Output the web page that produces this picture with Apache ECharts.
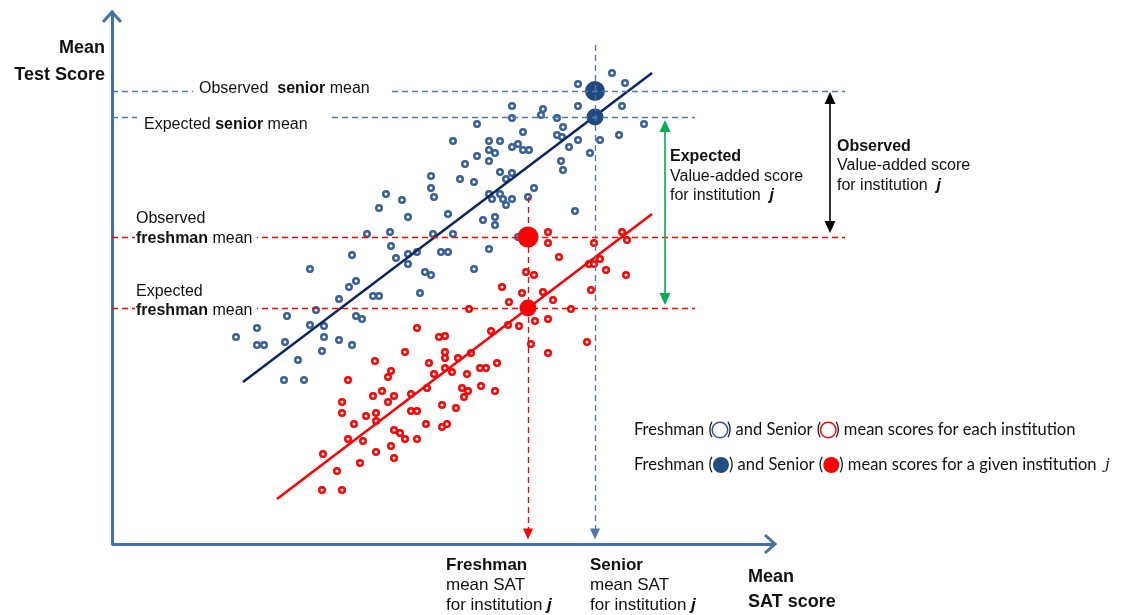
<!DOCTYPE html>
<html><head><meta charset="utf-8">
<script src="https://cdn.jsdelivr.net/npm/echarts/dist/echarts.min.js"></script>
<style>html,body{margin:0;padding:0;background:#fff}#c{width:1122px;height:615px}</style>
</head><body><div id="c"></div>
<script>
// ---- data (mean SAT score, mean test score) ----
const freshmanSAT = [1200,1166,1213,1100,1131,1166,1210,1100,1129,1145,1065,1151,1232,1111,1041,1077,1088,1145,1150,1166,1188,1207,1077,1083,1100,1106,1111,1117,1157,1178,1065,1077,1053,1149,1151,1088,1100,1094,1048,1062,1122,1077,1088,1080,1091,1100,1094,1116,1036,1163,1071,1083,1083,1041,1106,1029,1036,1077,1062,1019,1019,1022,974,990,967,996,955,978,1021,979,940,984,996,1005,996,898,1013,1019,944,937,961,967,1008,927,904,875,944,950,898,912,845,824,912,927,845,852,873,940,910,886,872,892];
const freshmanScore = [1271,1260,1261,1238,1235,1238,1238,1226,1229,1226,1220,1217,1220,1212,1203,1203,1203,1209,1207,1204,1204,1209,1194,1191,1197,1200,1194,1194,1197,1191,1188,1183,1180,1183,1174,1172,1171,1165,1165,1162,1156,1150,1150,1145,1145,1145,1139,1147,1130,1133,1124,1127,1119,1110,1107,1092,1092,1095,1075,1168,1156,1147,1150,1144,1136,1127,1110,1112,1110,1098,1089,1086,1090,1092,1080,1075,1072,1069,1063,1057,1048,1048,1051,1045,1034,1028,1028,1025,1019,1018,1016,1007,1007,1004,999,999,1002,999,993,984,964,964];
const seniorSAT = [1136,1136,1182,1210,1215,1147,1188,1177,1182,1194,1214,1114,1122,1090,1110,1131,1179,1097,1141,1057,1159,1123,1136,1107,1096,1079,1033,1027,1005,1119,1136,1175,1033,1033,1046,1059,1085,1033,1040,1068,1074,1055,1069,1083,1050,1056,1052,1030,1044,1030,1035,993,963,1017,979,976,936,1022,1015,970,961,982,999,976,930,930,964,954,964,999,1005,942,1014,982,988,993,1005,936,951,979,911,964,982,948,925,910,930];
const seniorScore = [1112,1101,1101,1112,1104,1087,1085,1080,1080,1074,1069,1072,1069,1057,1051,1052,1054,1042,1044,1035,1035,1023,1025,1018,1019,1013,1008,1007,1016,1000,991,1002,992,986,986,991,981,976,972,976,976,970,958,953,956,953,947,939,936,917,920,992,983,981,973,967,964,970,956,953,948,948,950,942,942,931,931,928,923,933,933,920,920,914,911,905,905,905,903,898,890,892,886,881,873,854,854];
// regression lines (end points)
const fitBlueSAT = [831, 1240], fitBlueScore = [962, 1271];
const fitRedSAT = [865, 1240], fitRedScore = [845, 1130];
// institution j
const jFreshmanSAT = 1116, jSeniorSAT = 1183;
const obsSeniorMean = 1253, expSeniorMean = 1227, obsFreshmanMean = 1107, expFreshmanMean = 1036;
// axis extents (x axis arrow ends at satAxisEnd; plot area extends to satMax for annotations)
const satMin = 700, satAxisEnd = 1363, satMax = 1450, scoreMin = 800, scoreMax = 1332;
// guide extents
const obsGuideEnd = 1433, expGuideEnd = 1283, seniorGuideTop = 1299, freshmanGuideTop = 1147, guideBottom = 810;
const expectedArrowSAT = 1253, observedArrowSAT = 1418;

const BLUE = '#36609a', NAVY = '#0b2565', RED = '#ff0000', BIGBLUE = '#1f4a80', AXIS = '#4570a5';
const FONT = '"Liberation Sans", Arial, sans-serif';
const zip = (a, b) => a.map((v, i) => [v, b[i]]);

const chart = echarts.init(document.getElementById('c'));
const blueDash = {color: '#4f77aa', width: 1.3, type: [6, 4]};
const redDash = {color: RED, width: 1.3, type: [6, 4]};
const head = [10, 11];

chart.setOption({
  animation: false,
  grid: {left: 112, top: 12, width: satMax - satMin, height: 532},
  xAxis: {type: 'value', min: satMin, max: satMax, axisLine: {show: false},
    axisTick: {show: false}, axisLabel: {show: false}, splitLine: {show: false}},
  yAxis: {type: 'value', min: scoreMin, max: scoreMax, axisLine: {show: true, onZero: false, lineStyle: {color: AXIS, width: 3}},
    axisTick: {show: false}, axisLabel: {show: false}, splitLine: {show: false}},
  series: [
    {type: 'scatter', name: 'Freshman', data: zip(freshmanSAT, freshmanScore), symbol: 'circle', symbolSize: 5.5,
      itemStyle: {color: '#fff', borderColor: BLUE, borderWidth: 2.5, opacity: 1}, z: 2, silent: true},
    {type: 'scatter', name: 'Senior', data: zip(seniorSAT, seniorScore), symbol: 'circle', symbolSize: 5.5,
      itemStyle: {color: '#fff', borderColor: RED, borderWidth: 2.5, opacity: 1}, z: 2, silent: true},
    {type: 'line', data: zip(fitBlueSAT, fitBlueScore), symbol: 'none', lineStyle: {color: NAVY, width: 2.5}, z: 3, silent: true},
    {type: 'line', data: zip(fitRedSAT, fitRedScore), symbol: 'none', lineStyle: {color: RED, width: 2.5}, z: 3, silent: true},
    {type: 'scatter', data: [[jSeniorSAT, obsSeniorMean]], symbolSize: 20, itemStyle: {color: BIGBLUE, opacity: 1}, z: 4, silent: true},
    {type: 'scatter', data: [[jSeniorSAT, expSeniorMean]], symbolSize: 17, itemStyle: {color: BIGBLUE, opacity: 1}, z: 4, silent: true},
    {type: 'scatter', data: [[jFreshmanSAT, obsFreshmanMean]], symbolSize: 21, itemStyle: {color: RED, opacity: 1}, z: 4, silent: true},
    {type: 'scatter', data: [[jFreshmanSAT, expFreshmanMean]], symbolSize: 17, itemStyle: {color: RED, opacity: 1}, z: 4, silent: true},
    {type: 'line', data: [], clip: false, silent: true,
      markLine: {silent: true, animation: false, symbol: ['none', 'none'], label: {show: false}, emphasis: {disabled: true},
        data: [
          [{coord: [satMin, scoreMin], lineStyle: {color: AXIS, width: 3, type: 'solid'}}, {coord: [satAxisEnd, scoreMin]}],
          [{coord: [satMin, obsSeniorMean], lineStyle: blueDash}, {coord: [obsGuideEnd, obsSeniorMean]}],
          [{coord: [satMin, expSeniorMean], lineStyle: blueDash}, {coord: [expGuideEnd, expSeniorMean]}],
          [{coord: [satMin, obsFreshmanMean], lineStyle: redDash}, {coord: [obsGuideEnd, obsFreshmanMean]}],
          [{coord: [satMin, expFreshmanMean], lineStyle: redDash}, {coord: [expGuideEnd, expFreshmanMean]}],
          [{coord: [jSeniorSAT, seniorGuideTop], lineStyle: blueDash, symbol: 'none'}, {coord: [jSeniorSAT, guideBottom], symbol: 'triangle', symbolSize: head}],
          [{coord: [jFreshmanSAT, freshmanGuideTop], lineStyle: redDash, symbol: 'none'}, {coord: [jFreshmanSAT, guideBottom], symbol: 'triangle', symbolSize: head}],
          [{coord: [expectedArrowSAT, expSeniorMean - 9], lineStyle: {color: '#00b050', width: 1.6, type: 'solid'}, symbol: 'triangle', symbolSize: [11, 12]},
           {coord: [expectedArrowSAT, expFreshmanMean + 9], symbol: 'triangle', symbolSize: [11, 12]}],
          [{coord: [observedArrowSAT, obsSeniorMean - 7], lineStyle: {color: '#000', width: 1.6, type: 'solid'}, symbol: 'triangle', symbolSize: [11, 12]},
           {coord: [observedArrowSAT, obsFreshmanMean + 10], symbol: 'triangle', symbolSize: [11, 12]}]
        ]}}
  ]
});

// ---- annotations ----
const p = (x, y) => chart.convertToPixel({gridIndex: 0}, [x, y]);
const tipX = p(satAxisEnd, scoreMin), tipY = p(satMin, scoreMax);
const r = (size, weight, extra) => Object.assign({fontFamily: FONT, fontSize: size, fontWeight: weight || 'normal', fill: '#111'}, extra || {});
function T(x, y, text, rich, align) {
  return {type: 'text', x, y, z: 100, silent: true,
    style: {text, rich, align: align || 'left', verticalAlign: 'middle', fontFamily: FONT, fontSize: 16, fill: '#111'}};
}
const R16 = {n: r(16), b: r(16, 'bold'), bi: r(16, 'bold', {fontStyle: 'italic'})};
const R17 = {n: r(17), b: r(17, 'bold'), bi: r(17, 'bold', {fontStyle: 'italic'})};
const R18 = {b: r(18, 'bold')};
const LF = '"Lato", "Open Sans", sans-serif';
const RL = {t: {fontFamily: LF, fontSize: 16.5, fill: '#111'},
  ob: {width: 14, height: 14, borderRadius: 8, borderColor: '#2f5597', borderWidth: 1.5, backgroundColor: '#fff'},
  or: {width: 14, height: 14, borderRadius: 8, borderColor: RED, borderWidth: 1.5, backgroundColor: '#fff'},
  fb: {width: 16, height: 16, borderRadius: 8, backgroundColor: '#1f4e85'},
  fr: {width: 16, height: 16, borderRadius: 8, backgroundColor: RED},
  j: {fontFamily: '"DejaVu Serif", serif', fontStyle: 'italic', fontSize: 15, fill: '#111'}};
const cover = (x1, x2, yc) => ({type: 'rect', z: 50, silent: true, shape: {x: x1, y: yc - 6, width: x2 - x1, height: 12}, style: {fill: '#fff'}});

chart.setOption({graphic: [
  {type: 'polyline', z: 60, silent: true, shape: {points: [[tipX[0] - 10, tipX[1] - 9], [tipX[0], tipX[1]], [tipX[0] - 10, tipX[1] + 9]]}, style: {stroke: AXIS, lineWidth: 3, fill: null}},
  {type: 'polyline', z: 60, silent: true, shape: {points: [[tipY[0] - 9, tipY[1] + 10], [tipY[0], tipY[1]], [tipY[0] + 9, tipY[1] + 10]]}, style: {stroke: AXIS, lineWidth: 3, fill: null}},
  cover(193, 392, p(satMin, obsSeniorMean)[1]),
  cover(137, 330, p(satMin, expSeniorMean)[1]),
  cover(135, 257, p(satMin, obsFreshmanMean)[1]),
  cover(135, 257, p(satMin, expFreshmanMean)[1]),
  T(105, 48, '{b|Mean}', R18, 'right'),
  T(105, 75, '{b|Test Score}', R18, 'right'),
  T(199, 89, '{n|Observed  }{b|senior}{n| mean}', R16),
  T(144, 125, '{n|Expected }{b|senior}{n| mean}', R16),
  T(136, 219, '{n|Observed}', R16),
  T(136, 239, '{b|freshman}{n| mean}', R16),
  T(136, 292, '{n|Expected}', R16),
  T(136, 311, '{b|freshman}{n| mean}', R16),
  T(670, 157, '{b|Expected}', R16),
  T(670, 177, '{n|Value-added score}', R16),
  T(670, 196, '{n|for institution  }{bi|j}', R16),
  T(837, 147, '{b|Observed}', R16),
  T(837, 166, '{n|Value-added score}', R16),
  T(837, 186, '{n|for institution  }{bi|j}', R16),
  T(634, 430, '{t|Freshman (}{ob| }{t|) and Senior (}{or| }{t|) mean scores for each institution}', RL),
  T(634, 465, '{t|Freshman (}{fb| }{t|) and Senior (}{fr| }{t|) mean scores for a given institution  }{j|j}', RL),
  T(446, 565, '{b|Freshman}', R17),
  T(446, 585, '{n|mean SAT}', R17),
  T(446, 605, '{n|for institution }{bi|j}', R17),
  T(590, 565, '{b|Senior}', R17),
  T(590, 585, '{n|mean SAT}', R17),
  T(590, 605, '{n|for institution }{bi|j}', R17),
  T(748, 577, '{b|Mean}', R18),
  T(748, 602, '{b|SAT score}', R18)
]});
</script>
</body></html>
